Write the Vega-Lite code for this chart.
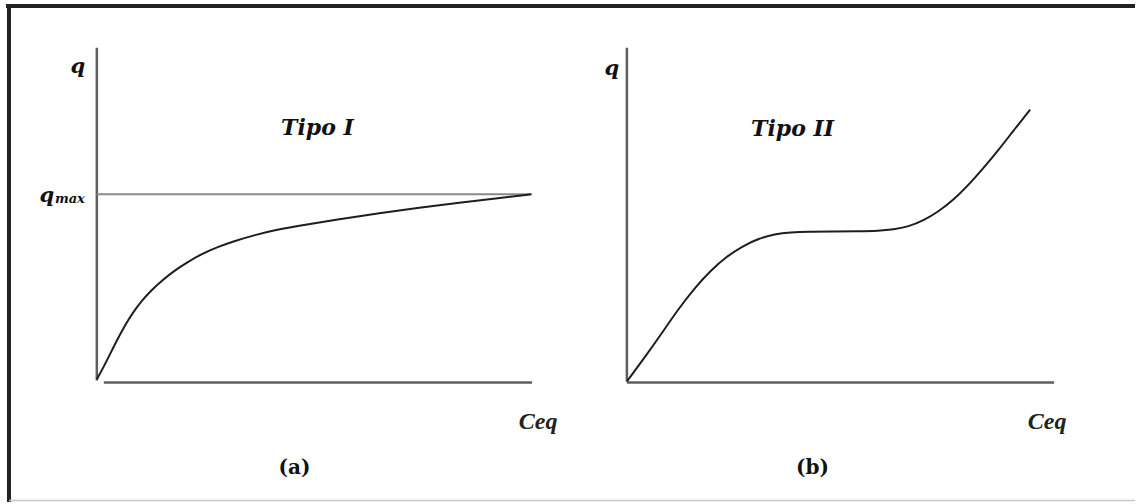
{
  "$schema": "https://vega.github.io/schema/vega-lite/v6.json",
  "width": 1137,
  "height": 504,
  "autosize": {"type": "fit", "contains": "padding"},
  "padding": 0,
  "background": "white",
  "config": {"view": {"stroke": null}},
  "layer": [
    {
      "data": {"values": [
        {"name": "border-top", "x": 6, "x2": 1137, "y": 6, "y2": 6},
        {"name": "border-left", "x": 9, "x2": 9, "y": 4, "y2": 504}
      ]},
      "mark": {"type": "rule", "stroke": "#222222", "strokeWidth": 4},
      "encoding": {
        "x": {"field": "x", "type": "quantitative", "scale": {"domain": [0, 1137], "nice": false, "zero": false}, "axis": null},
        "x2": {"field": "x2"},
        "y": {"field": "y", "type": "quantitative", "scale": {"domain": [0, 504], "nice": false, "zero": false, "reverse": true}, "axis": null},
        "y2": {"field": "y2"}
      }
    },
    {
      "data": {"values": [
        {"name": "border-bottom", "x": 9, "x2": 1137, "y": 502.5, "y2": 502.5}
      ]},
      "mark": {"type": "rule", "stroke": "#c8c8c8", "strokeWidth": 1.5},
      "encoding": {
        "x": {"field": "x", "type": "quantitative"},
        "x2": {"field": "x2"},
        "y": {"field": "y", "type": "quantitative"},
        "y2": {"field": "y2"}
      }
    },
    {
      "data": {"values": [
        {"name": "a-yaxis", "x": 97, "x2": 97, "y": 48, "y2": 382},
        {"name": "a-xaxis", "x": 104, "x2": 533, "y": 384, "y2": 384},
        {"name": "b-yaxis", "x": 628, "x2": 628, "y": 48, "y2": 383},
        {"name": "b-xaxis", "x": 628, "x2": 1056, "y": 384, "y2": 384}
      ]},
      "mark": {"type": "rule", "stroke": "#5e5e5e", "strokeWidth": 2.5},
      "encoding": {
        "x": {"field": "x", "type": "quantitative"},
        "x2": {"field": "x2"},
        "y": {"field": "y", "type": "quantitative"},
        "y2": {"field": "y2"}
      }
    },
    {
      "data": {"values": [
        {"name": "qmax", "x": 97, "x2": 533, "y": 195, "y2": 195}
      ]},
      "mark": {"type": "rule", "stroke": "#8a8a8a", "strokeWidth": 2},
      "encoding": {
        "x": {"field": "x", "type": "quantitative"},
        "x2": {"field": "x2"},
        "y": {"field": "y", "type": "quantitative"},
        "y2": {"field": "y2"}
      }
    },
    {
      "data": {"values": [
        {"curve": "I", "x": 97, "y": 381},
        {"curve": "I", "x": 104, "y": 368},
        {"curve": "I", "x": 111, "y": 354},
        {"curve": "I", "x": 118, "y": 340},
        {"curve": "I", "x": 125, "y": 327},
        {"curve": "I", "x": 133, "y": 314},
        {"curve": "I", "x": 142, "y": 302},
        {"curve": "I", "x": 152, "y": 291},
        {"curve": "I", "x": 163, "y": 281},
        {"curve": "I", "x": 175, "y": 271.5},
        {"curve": "I", "x": 188, "y": 263},
        {"curve": "I", "x": 202, "y": 255},
        {"curve": "I", "x": 218, "y": 248},
        {"curve": "I", "x": 235, "y": 242},
        {"curve": "I", "x": 255, "y": 236},
        {"curve": "I", "x": 278, "y": 230.5},
        {"curve": "I", "x": 300, "y": 226.5},
        {"curve": "I", "x": 340, "y": 220},
        {"curve": "I", "x": 380, "y": 214},
        {"curve": "I", "x": 420, "y": 208.5},
        {"curve": "I", "x": 460, "y": 203.5},
        {"curve": "I", "x": 500, "y": 199},
        {"curve": "I", "x": 532, "y": 195},
        {"curve": "II", "x": 628, "y": 383},
        {"curve": "II", "x": 645, "y": 360},
        {"curve": "II", "x": 662, "y": 336},
        {"curve": "II", "x": 679, "y": 311},
        {"curve": "II", "x": 696, "y": 289},
        {"curve": "II", "x": 712, "y": 271.5},
        {"curve": "II", "x": 728, "y": 257.5},
        {"curve": "II", "x": 744, "y": 247},
        {"curve": "II", "x": 760, "y": 239.5},
        {"curve": "II", "x": 776, "y": 235},
        {"curve": "II", "x": 792, "y": 233.2},
        {"curve": "II", "x": 810, "y": 232.5},
        {"curve": "II", "x": 835, "y": 232.3},
        {"curve": "II", "x": 860, "y": 232.3},
        {"curve": "II", "x": 880, "y": 231.8},
        {"curve": "II", "x": 895, "y": 230.5},
        {"curve": "II", "x": 910, "y": 227.5},
        {"curve": "II", "x": 925, "y": 221.5},
        {"curve": "II", "x": 940, "y": 212.5},
        {"curve": "II", "x": 955, "y": 201},
        {"curve": "II", "x": 970, "y": 186},
        {"curve": "II", "x": 985, "y": 169},
        {"curve": "II", "x": 1000, "y": 151},
        {"curve": "II", "x": 1015, "y": 131.5},
        {"curve": "II", "x": 1032, "y": 110}
      ]},
      "mark": {"type": "line", "stroke": "#1e1e1e", "strokeWidth": 2, "interpolate": "basis"},
      "encoding": {
        "x": {"field": "x", "type": "quantitative"},
        "y": {"field": "y", "type": "quantitative"},
        "detail": {"field": "curve"}
      }
    },
    {
      "data": {"values": [
        {"label": "Tipo I", "x": 318, "y": 129},
        {"label": "Tipo II", "x": 794, "y": 130}
      ]},
      "mark": {"type": "text", "font": "DejaVu Serif", "fontStyle": "italic", "fontWeight": "bold", "fontSize": 22, "align": "center", "baseline": "middle", "color": "#111111"},
      "encoding": {
        "x": {"field": "x", "type": "quantitative"},
        "y": {"field": "y", "type": "quantitative"},
        "text": {"field": "label"}
      }
    },
    {
      "data": {"values": [
        {"label": "q", "x": 78, "y": 67},
        {"label": "q", "x": 613, "y": 69},
        {"label": "q", "x": 47, "y": 197}
      ]},
      "mark": {"type": "text", "font": "DejaVu Serif", "fontStyle": "italic", "fontWeight": "bold", "fontSize": 21, "align": "center", "baseline": "middle", "color": "#111111"},
      "encoding": {
        "x": {"field": "x", "type": "quantitative"},
        "y": {"field": "y", "type": "quantitative"},
        "text": {"field": "label"}
      }
    },
    {
      "data": {"values": [
        {"label": "max", "x": 55, "y": 200}
      ]},
      "mark": {"type": "text", "font": "DejaVu Serif", "fontStyle": "italic", "fontWeight": "bold", "fontSize": 13, "align": "left", "baseline": "middle", "color": "#111111"},
      "encoding": {
        "x": {"field": "x", "type": "quantitative"},
        "y": {"field": "y", "type": "quantitative"},
        "text": {"field": "label"}
      }
    },
    {
      "data": {"values": [
        {"label": "Ceq", "x": 539, "y": 424},
        {"label": "Ceq", "x": 1049, "y": 424}
      ]},
      "mark": {"type": "text", "font": "Liberation Serif", "fontStyle": "italic", "fontWeight": "bold", "fontSize": 24, "align": "center", "baseline": "middle", "color": "#222222"},
      "encoding": {
        "x": {"field": "x", "type": "quantitative"},
        "y": {"field": "y", "type": "quantitative"},
        "text": {"field": "label"}
      }
    },
    {
      "data": {"values": [
        {"label": "(a)", "x": 295, "y": 470},
        {"label": "(b)", "x": 814, "y": 470}
      ]},
      "mark": {"type": "text", "font": "DejaVu Serif", "fontWeight": "bold", "fontSize": 20, "align": "center", "baseline": "middle", "color": "#111111"},
      "encoding": {
        "x": {"field": "x", "type": "quantitative"},
        "y": {"field": "y", "type": "quantitative"},
        "text": {"field": "label"}
      }
    }
  ]
}
